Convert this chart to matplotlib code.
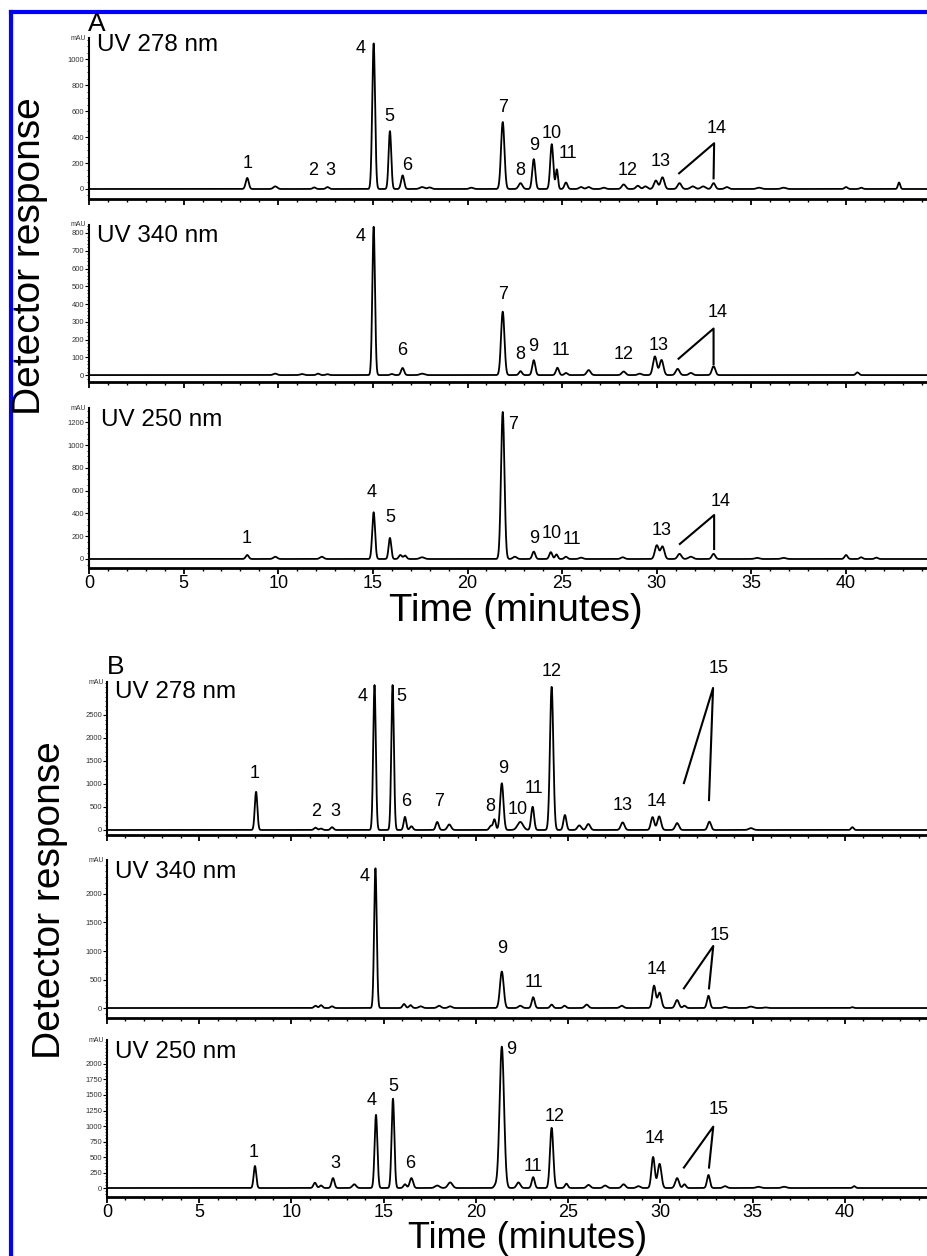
import numpy as np
import matplotlib
matplotlib.use("Agg")
import matplotlib.pyplot as plt
from matplotlib.lines import Line2D
from matplotlib.ticker import FixedLocator, MultipleLocator, NullFormatter

plt.rcParams["font.family"] = ["Liberation Sans", "DejaVu Sans"]

W, H = 928, 1256

# peaks: (retention time min, height mAU, sigma min)
A278_PEAKS = [
    (8.36, 85, 0.08), (9.84, 20, 0.1), (11.9, 12, 0.08), (12.6, 15, 0.08),
    (15.04, 1120, 0.075), (15.9, 445, 0.07), (16.57, 105, 0.08),
    (17.6, 15, 0.12), (18.0, 12, 0.1), (20.2, 10, 0.1),
    (21.86, 515, 0.09), (22.8, 45, 0.1), (23.5, 230, 0.08),
    (24.45, 345, 0.08), (24.72, 150, 0.06), (25.2, 50, 0.08),
    (26.0, 15, 0.1), (26.4, 15, 0.1), (27.2, 10, 0.1), (28.25, 35, 0.1),
    (29.0, 25, 0.1), (29.4, 20, 0.1), (29.95, 65, 0.1), (30.3, 90, 0.1),
    (31.2, 45, 0.1), (31.9, 20, 0.12), (32.45, 20, 0.12), (33.0, 45, 0.09),
    (33.7, 15, 0.1), (35.4, 10, 0.12), (36.7, 10, 0.12),
    (40.0, 15, 0.08), (40.8, 10, 0.08), (42.8, 50, 0.06),
]
A340_PEAKS = [
    (9.84, 8, 0.1), (11.25, 6, 0.1), (12.1, 8, 0.08), (12.6, 5, 0.08),
    (15.04, 835, 0.07), (16.0, 6, 0.08), (16.57, 40, 0.08), (17.6, 8, 0.12),
    (21.86, 357, 0.09), (22.8, 22, 0.08), (23.5, 84, 0.08),
    (24.75, 41, 0.08), (25.2, 12, 0.08), (26.4, 28, 0.1),
    (28.25, 20, 0.1), (29.1, 8, 0.1), (29.9, 105, 0.1), (30.25, 85, 0.1),
    (31.1, 35, 0.1), (31.8, 12, 0.1), (33.0, 50, 0.09), (40.6, 15, 0.08),
]
A250_PEAKS = [
    (8.36, 35, 0.08), (9.84, 20, 0.1), (12.3, 20, 0.1),
    (15.04, 410, 0.075), (15.9, 185, 0.07), (16.45, 35, 0.08), (16.7, 30, 0.08),
    (17.6, 15, 0.12), (21.86, 1290, 0.09), (22.5, 20, 0.1),
    (23.5, 65, 0.08), (24.4, 60, 0.08), (24.7, 40, 0.07), (25.2, 20, 0.08),
    (26.0, 12, 0.1), (28.2, 15, 0.1), (30.0, 120, 0.1), (30.3, 110, 0.1),
    (31.2, 45, 0.1), (31.8, 20, 0.12), (33.0, 45, 0.09),
    (35.3, 10, 0.12), (36.7, 10, 0.12), (40.0, 35, 0.08), (40.8, 15, 0.08),
    (41.6, 12, 0.08),
]
B278_PEAKS = [
    (8.08, 830, 0.07), (11.3, 50, 0.08), (11.6, 30, 0.08), (12.2, 60, 0.08),
    (14.5, 3150, 0.07), (15.48, 3150, 0.07), (16.15, 285, 0.07), (16.5, 80, 0.08),
    (17.9, 175, 0.08), (18.55, 120, 0.1), (20.8, 90, 0.08), (21.0, 230, 0.07),
    (21.4, 1015, 0.09), (22.4, 175, 0.15), (23.07, 505, 0.08),
    (24.1, 3110, 0.09), (24.82, 325, 0.08), (25.6, 100, 0.1), (26.09, 130, 0.1),
    (27.95, 165, 0.1), (29.57, 280, 0.09), (29.93, 295, 0.1),
    (30.9, 150, 0.1), (32.65, 180, 0.09), (34.9, 40, 0.12), (40.4, 60, 0.07),
]
B340_PEAKS = [
    (11.3, 40, 0.08), (11.6, 50, 0.08), (12.2, 30, 0.08),
    (14.55, 2450, 0.07), (16.1, 70, 0.08), (16.45, 50, 0.08), (17.0, 30, 0.1),
    (18.0, 40, 0.1), (18.6, 30, 0.1), (21.4, 640, 0.1), (22.4, 40, 0.1),
    (23.1, 190, 0.08), (24.1, 60, 0.08), (24.8, 40, 0.08), (26.0, 60, 0.1),
    (27.9, 40, 0.1), (29.65, 390, 0.09), (29.95, 270, 0.1),
    (30.9, 140, 0.1), (31.3, 40, 0.08), (32.6, 215, 0.08), (33.5, 20, 0.1),
    (34.9, 25, 0.12), (35.7, 10, 0.1), (40.4, 15, 0.07),
]
B250_PEAKS = [
    (8.02, 355, 0.07), (11.27, 85, 0.08), (11.6, 40, 0.08), (12.25, 160, 0.08),
    (13.4, 60, 0.1), (14.58, 1180, 0.075), (15.5, 1440, 0.075),
    (16.15, 60, 0.08), (16.5, 160, 0.09), (17.9, 40, 0.12), (18.6, 90, 0.12),
    (21.05, 40, 0.08), (21.4, 2280, 0.12), (22.3, 90, 0.1), (23.1, 175, 0.08),
    (24.1, 970, 0.09), (24.9, 70, 0.08), (26.1, 50, 0.1), (27.0, 40, 0.1),
    (28.0, 60, 0.1), (28.8, 30, 0.1), (29.6, 500, 0.09), (29.95, 390, 0.1),
    (30.9, 160, 0.1), (31.3, 60, 0.08), (32.6, 210, 0.08), (33.5, 30, 0.1),
    (35.3, 20, 0.12), (36.7, 20, 0.12), (40.5, 30, 0.07),
]

# peak numbers: (text, time, mAU)
A278_LABELS = [
    ("1", 8.36, 200), ("2", 11.85, 146), ("3", 12.75, 146), ("4", 14.34, 1085),
    ("5", 15.87, 560), ("6", 16.8, 177), ("7", 21.9, 630), ("8", 22.8, 146),
    ("9", 23.5, 338), ("10", 24.45, 430), ("11", 25.3, 277), ("12", 28.46, 146),
    ("13", 30.2, 210), ("14", 33.16, 467),
]
A340_LABELS = [
    ("4", 14.34, 779), ("6", 16.55, 141), ("7", 21.9, 451), ("8", 22.77, 116),
    ("9", 23.47, 163), ("11", 24.92, 141), ("12", 28.24, 116), ("13", 30.1, 165),
    ("14", 33.2, 352),
]
A250_LABELS = [
    ("1", 8.34, 182), ("4", 14.95, 580), ("5", 15.93, 360), ("7", 22.4, 1180),
    ("9", 23.5, 180), ("10", 24.45, 222), ("11", 25.5, 168), ("13", 30.25, 254),
    ("14", 33.39, 503),
]
B278_LABELS = [
    ("1", 8.02, 1232), ("2", 11.36, 400), ("3", 12.36, 400), ("4", 13.88, 2900),
    ("5", 15.97, 2900), ("6", 16.2, 616), ("7", 18.01, 616), ("8", 20.76, 507),
    ("9", 21.45, 1340), ("10", 22.24, 435), ("11", 23.14, 906), ("12", 24.1, 3440),
    ("13", 27.95, 530), ("14", 29.79, 616), ("15", 33.17, 3520),
]
B340_LABELS = [
    ("4", 13.98, 2300), ("9", 21.4, 1050), ("11", 23.15, 440), ("14", 29.79, 667),
    ("15", 33.19, 1280),
]
B250_LABELS = [
    ("1", 7.95, 580), ("3", 12.36, 398), ("4", 14.35, 1419), ("5", 15.52, 1634),
    ("6", 16.42, 398), ("9", 21.93, 2226), ("11", 23.1, 344), ("12", 24.28, 1150),
    ("14", 29.7, 801), ("15", 33.17, 1260),
]

# the "/|" marker tying the late peak number to two peaks: start, apex, end
A278_MARK = [(31.18, 121), (33.03, 352), (33.0, 82)]
A340_MARK = [(31.15, 92), (33.0, 262), (33.0, 62)]
A250_MARK = [(31.22, 132), (33.03, 386), (33.03, 88)]
B278_MARK = [(31.27, 1020), (32.85, 3087), (32.63, 650)]
B340_MARK = [(31.27, 345), (32.86, 1088), (32.63, 345)]
B250_MARK = [(31.27, 330), (32.86, 990), (32.63, 330)]

A278_TICKS = [0, 200, 400, 600, 800, 1000]
A340_TICKS = [0, 100, 200, 300, 400, 500, 600, 700, 800]
A250_TICKS = [0, 200, 400, 600, 800, 1000, 1200]
B278_TICKS = [0, 500, 1000, 1500, 2000, 2500]
B340_TICKS = [0, 500, 1000, 1500, 2000]
B250_TICKS = [0, 250, 500, 750, 1000, 1250, 1500, 1750, 2000]

TIME = np.linspace(0, 45, 9001)


def chromatogram(peaks):
    y = np.zeros_like(TIME)
    for t0, h, s in peaks:
        y += h * np.exp(-0.5 * ((TIME - t0) / s) ** 2)
    return y


def px_box(left, top, bottom, right=W):
    return [left / W, 1 - bottom / H, (right - left) / W, (bottom - top) / H]


def draw_trace(fig, cfg):
    ax = fig.add_axes(px_box(cfg["left"], cfg["top"], cfg["bottom"]))
    ax.patch.set_alpha(0)
    ax.plot(TIME, chromatogram(cfg["peaks"]), color="black", lw=1.3)
    ax.set_xlim(0, cfg["xmax"])
    ax.set_ylim(*cfg["ylim"])

    for txt, t0, v in cfg["labels"]:
        ax.text(t0, v, txt, fontsize=13, ha="center", va="center", clip_on=False)
    mx = [p[0] for p in cfg["mark"]]
    my = [p[1] for p in cfg["mark"]]
    ax.plot(mx, my, color="black", lw=1.5, clip_on=False)

    for side in ("top", "right"):
        ax.spines[side].set_visible(False)
    ax.spines["left"].set_linewidth(1.5)
    ax.spines["bottom"].set_linewidth(2.0)

    ax.yaxis.set_major_locator(FixedLocator(cfg["ticks"]))
    ax.yaxis.set_minor_locator(MultipleLocator(cfg["minor"]))
    ax.xaxis.set_major_locator(MultipleLocator(5))
    ax.xaxis.set_minor_locator(MultipleLocator(1))
    ax.tick_params(axis="y", which="major", direction="out", length=3, width=0.8,
                   pad=0.6, labelsize=5.5, labelcolor="#333333")
    ax.tick_params(axis="y", which="minor", direction="out", length=1.6, width=0.6)
    ax.tick_params(axis="x", which="major", direction="out", length=4, width=1.3,
                   pad=1.2, labelsize=13)
    ax.tick_params(axis="x", which="minor", direction="out", length=2.3, width=1.0)
    if not cfg["xlabels"]:
        ax.xaxis.set_major_formatter(NullFormatter())

    ax.annotate("mAU", xy=(0, 1), xycoords="axes fraction", xytext=(-2, 0),
                textcoords="offset points", ha="right", va="center",
                fontsize=5, color="#333333")
    fig.text(cfg["name_x"] / W, 1 - cfg["name_y"] / H, cfg["name"],
             fontsize=17.5, ha="left", va="center")
    return ax


fig = plt.figure(figsize=(W / 100, H / 100), dpi=100)

panels = [
    dict(peaks=A278_PEAKS, labels=A278_LABELS, mark=A278_MARK, ticks=A278_TICKS,
         minor=50, ylim=(-77, 1162), left=89, top=38, bottom=199, xmax=44.33,
         name="UV 278 nm", name_x=97, name_y=45, xlabels=False),
    dict(peaks=A340_PEAKS, labels=A340_LABELS, mark=A340_MARK, ticks=A340_TICKS,
         minor=20, ylim=(-39, 845), left=89, top=225, bottom=382, xmax=44.33,
         name="UV 340 nm", name_x=97, name_y=236, xlabels=False),
    dict(peaks=A250_PEAKS, labels=A250_LABELS, mark=A250_MARK, ticks=A250_TICKS,
         minor=50, ylim=(-79, 1325), left=89, top=408, bottom=568, xmax=44.33,
         name="UV 250 nm", name_x=101, name_y=420, xlabels=True),
    dict(peaks=B278_PEAKS, labels=B278_LABELS, mark=B278_MARK, ticks=B278_TICKS,
         minor=100, ylim=(-109, 3217), left=107, top=682, bottom=835, xmax=44.5,
         name="UV 278 nm", name_x=115, name_y=692, xlabels=False),
    dict(peaks=B340_PEAKS, labels=B340_LABELS, mark=B340_MARK, ticks=B340_TICKS,
         minor=100, ylim=(-175, 2596), left=107, top=860, bottom=1018, xmax=44.5,
         name="UV 340 nm", name_x=115, name_y=872, xlabels=False),
    dict(peaks=B250_PEAKS, labels=B250_LABELS, mark=B250_MARK, ticks=B250_TICKS,
         minor=50, ylim=(-145, 2387), left=107, top=1040, bottom=1197, xmax=44.5,
         name="UV 250 nm", name_x=115, name_y=1052, xlabels=True),
]

for cfg in panels:
    draw_trace(fig, cfg)

# panel letters and shared axis titles
fig.text(97 / W, 1 - 24 / H, "A", fontsize=19, ha="center", va="center")
fig.text(116 / W, 1 - 667 / H, "B", fontsize=19, ha="center", va="center")
fig.text(30 / W, 1 - 256 / H, "Detector response", fontsize=28, rotation=90,
         ha="center", va="center")
fig.text(50 / W, 1 - 900 / H, "Detector response", fontsize=28, rotation=90,
         ha="center", va="center")
fig.text(516 / W, 1 - 621 / H, "Time (minutes)", fontsize=27.5,
         ha="center", va="baseline")
fig.text(528 / W, 1 - 1248 / H, "Time (minutes)", fontsize=26,
         ha="center", va="baseline")

# blue frame of the original page (only top and left edges are in view)
fig.add_artist(Line2D([11 / W, 1.0], [1 - 12 / H, 1 - 12 / H],
                      color="#0000ff", lw=3, transform=fig.transFigure))
fig.add_artist(Line2D([11 / W, 11 / W], [0, 1 - 12 / H],
                      color="#0000ff", lw=3, transform=fig.transFigure))

fig.savefig("out.png", dpi=100)
